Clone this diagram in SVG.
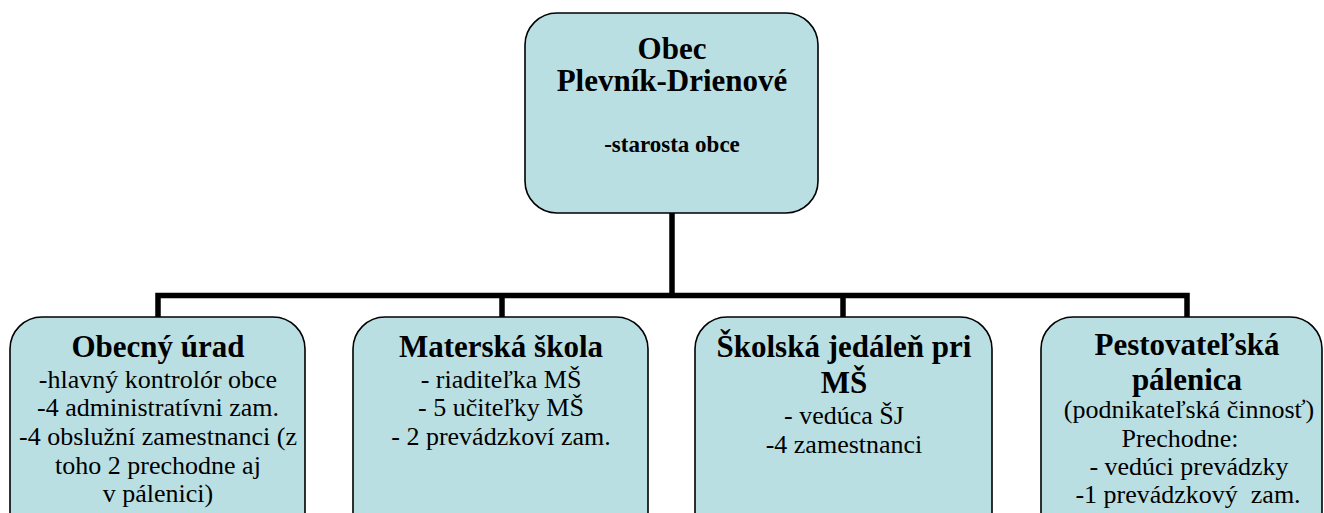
<svg xmlns="http://www.w3.org/2000/svg" width="1324" height="513" viewBox="0 0 1324 513">
<style>
.box{fill:#BADFE3;stroke:#000;stroke-width:1.6}
.conn{stroke:#000;stroke-width:5.5;fill:none;stroke-linecap:butt;stroke-linejoin:miter}
.lbl{font-family:'Liberation Serif','DejaVu Serif',serif;fill:#000;text-anchor:middle}
.t{font-size:31px;font-weight:bold}
.s{font-size:23px;font-weight:bold}
.r{font-size:26px}
</style>
<rect width="1324" height="513" fill="#fff"/>
<g id="connectors">
<path class="conn" d="M672,213 V295.5"/>
<path class="conn" d="M158,318 V295.5 H1187 V318"/>
<path class="conn" d="M502,295.5 V318"/>
<path class="conn" d="M843,295.5 V318"/>
</g>
<g id="obec" class="lbl" font-family="Liberation Serif, serif">
<rect class="box" x="525" y="13" width="293" height="200" rx="32" ry="32"/>
<text class="t" x="672" y="59">Obec</text>
<text class="t" x="672" y="91">Plevník-Drienové</text>
<text class="s" x="672" y="152">-starosta obce</text>
</g>
<g id="obecny-urad" class="lbl" font-family="Liberation Serif, serif">
<rect class="box" x="10" y="317" width="295" height="230" rx="32" ry="32"/>
<text class="t" x="158" y="357">Obecný úrad</text>
<text class="r" x="158" y="387.5">-hlavný kontrolór obce</text>
<text class="r" x="158" y="416">-4 administratívni zam.</text>
<text class="r" x="158" y="445">-4 obslužní zamestnanci (z</text>
<text class="r" x="158" y="473.5">toho 2 prechodne aj</text>
<text class="r" x="158" y="502">v pálenici)</text>
</g>
<g id="materska-skola" class="lbl" font-family="Liberation Serif, serif">
<rect class="box" x="353" y="317" width="295" height="230" rx="32" ry="32"/>
<text class="t" x="501" y="357">Materská škola</text>
<text class="r" x="501" y="387.5">- riaditeľka MŠ</text>
<text class="r" x="501" y="416">- 5 učiteľky MŠ</text>
<text class="r" x="501" y="445">- 2 prevádzkoví zam.</text>
</g>
<g id="skolska-jedalen" class="lbl" font-family="Liberation Serif, serif">
<rect class="box" x="695" y="317" width="297" height="230" rx="32" ry="32"/>
<text class="t" x="844" y="357">Školská jedáleň pri</text>
<text class="t" x="844" y="393">MŠ</text>
<text class="r" x="844" y="424">- vedúca ŠJ</text>
<text class="r" x="844" y="453">-4 zamestnanci</text>
</g>
<g id="palenica" class="lbl" font-family="Liberation Serif, serif">
<rect class="box" x="1041" y="317" width="281" height="230" rx="32" ry="32"/>
<text class="t" x="1187" y="355">Pestovateľská</text>
<text class="t" x="1187" y="390">pálenica</text>
<text class="r" x="1189" y="418">(podnikateľská činnosť)</text>
<text class="r" x="1180" y="446.5">Prechodne:</text>
<text class="r" x="1189" y="475">- vedúci prevádzky</text>
<text class="r" x="1188" y="503">-1 prevádzkový&#160; zam.</text>
</g>
</svg>
